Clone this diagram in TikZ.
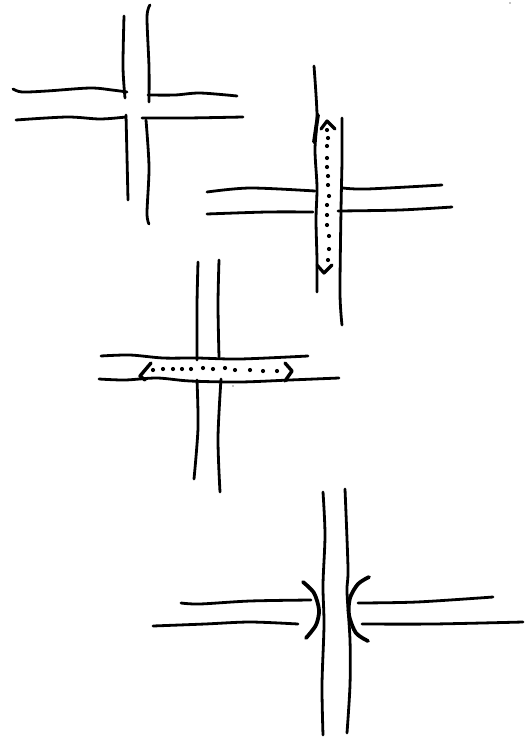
\documentclass[tikz,border=0pt]{standalone}
\tikzset{
  ink/.style={line width=2.8pt,line cap=round,line join=round,black},
  heavy/.style={ink,line width=3.8pt}
}
\newcommand{\hand}[2][ink]{\draw[#1] plot[smooth,tension=0.5] coordinates {#2};}
\begin{document}
\begin{tikzpicture}[x=1pt,y=-1pt]
\useasboundingbox (0,0) rectangle (525,739);
% panel 1
\hand{(124,16) (123,67) (125,98)}
\hand{(126,115) (127,157) (128,200)}
\hand{(150,5) (147,17) (149,67) (149,102)}
\hand{(146,120) (149,167) (147,213) (149,224)}
\hand{(13,89) (22,92) (47,91) (90,88) (112,90) (127,92)}
\hand{(16,120) (67,117) (100,119) (126,117)}
\hand{(148,95) (175,95) (200,93) (237,96)}
\hand{(142,118) (187,118) (243,117)}
% panel 2
\hand{(314,66) (317,115) (315,150) (317,187) (316,220) (317,260) (317,292)}
\hand[heavy]{(318,115) (316,128) (314,142)}
\hand{(342,118) (342,160) (341,210) (340,293) (342,325)}
\hand{(207,192) (250,188) (315,191)}
\hand{(207,214) (267,212) (313,212)}
\hand{(343,188) (367,189) (442,185)}
\hand{(338,211) (400,210) (452,207)}
\draw[ink,line width=3.2pt] (321,129) -- (327,121) -- (335,129);
\draw[ink,line width=3.2pt] (317,265) -- (324,273) -- (332,265);
\foreach \p in {(327,130),(328,138),(327,146),(327,158),(327,167),(328,176),(328,185),(329,196),(327,205),(327,215),(327,225),(329,236),(329,249),(328,260)}
  \fill \p circle (2.1pt);
% panel 3
\hand{(198,262) (197,305) (197,360)}
\hand{(219,260) (218,305) (219,357)}
\hand{(197,380) (198,428) (194,479)}
\hand{(221,379) (218,438) (220,492)}
\hand{(101,356) (130,355) (163,358) (197,358) (240,359) (308,356)}
\hand{(99,379) (125,380) (157,378) (190,381) (240,382) (290,380) (339,378)}
\draw[ink,line width=3.4pt] (151,363) -- (140,376) -- (145,380);
\draw[ink,line width=3.4pt] (285,363) -- (292,371) -- (285,381);
\foreach \p in {(153,370),(163,369),(173,369),(182,369),(191,369),(203,368),(213,369),(225,368),(235,370),(250,370),(263,371),(277,371)}
  \fill \p circle (2.1pt);
\fill (233,386) circle (0.7pt);
\fill (510,3) circle (0.7pt);
% panel 4
\hand{(323,492) (325,535) (323,585) (324,625) (322,685) (323,735)}
\hand{(345,489) (348,568) (347,592) (350,640) (350,685) (347,733)}
\hand{(181,603) (200,604) (250,601) (311,600)}
\hand{(153,626) (205,624) (250,622) (298,624)}
\hand{(358,603) (417,602) (493,597)}
\hand{(362,624) (433,624) (523,622)}
\hand[heavy]{(303,582) (314,593) (319,610) (316,625) (306,638)}
\hand[heavy]{(369,577) (358,584) (350,598) (349,615) (356,633) (368,641)}
\end{tikzpicture}
\end{document}
